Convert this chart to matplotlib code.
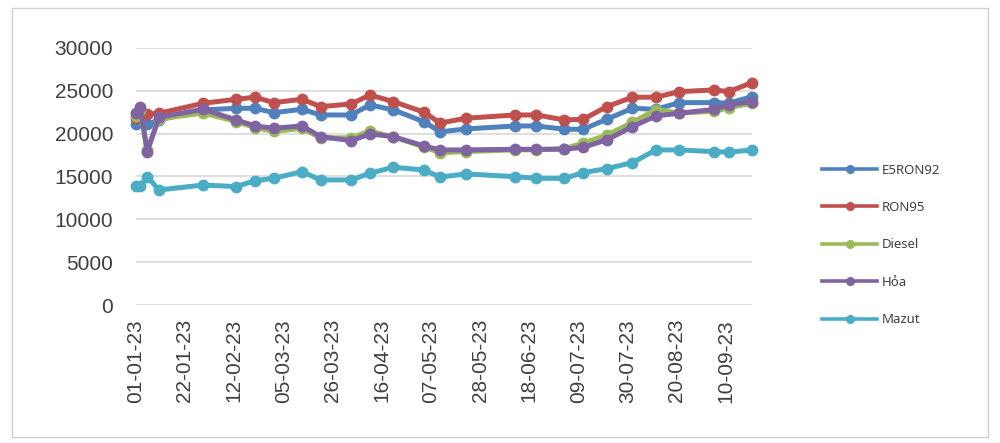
import datetime as dt
import matplotlib
matplotlib.use('Agg')
import matplotlib.pyplot as plt
import matplotlib.dates as mdates
from matplotlib.lines import Line2D
from matplotlib.patches import Rectangle

plt.rcParams['font.family'] = ['Liberation Sans', 'DejaVu Sans']

# ngày điều chỉnh giá (2023)
dates = [
    "2023-01-01", "2023-01-03", "2023-01-06", "2023-01-11", "2023-01-30",
    "2023-02-13", "2023-02-21", "2023-03-01", "2023-03-13", "2023-03-21",
    "2023-04-03", "2023-04-11", "2023-04-21", "2023-05-04", "2023-05-11",
    "2023-05-22", "2023-06-12", "2023-06-21", "2023-07-03", "2023-07-11",
    "2023-07-21", "2023-08-01", "2023-08-11", "2023-08-21", "2023-09-05",
    "2023-09-11", "2023-09-21",
]

e5ron92 = [21100, 21600, 21100, 21600, 22760, 22950, 22950, 22440, 22830, 22170,
           22170, 23340, 22760, 21390, 20200, 20540, 20890, 20890, 20500, 20500,
           21670, 22950, 22830, 23610, 23610, 23540, 24310]
ron95 = [21800, 22100, 22250, 22370, 23540, 24000, 24240, 23610, 24000, 23140,
         23460, 24500, 23730, 22500, 21230, 21790, 22170, 22170, 21590, 21670,
         23140, 24240, 24240, 24890, 25090, 24890, 25940]
diesel = [22100, 22700, 18100, 21700, 22400, 21400, 20700, 20250, 20600, 19500,
          19500, 20300, 19600, 18450, 17750, 17900, 18100, 18100, 18250, 18900,
          19800, 21300, 22800, 22400, 22600, 23000, 23550]
hoa = [22370, 23140, 17890, 21900, 22830, 21590, 20890, 20620, 20890, 19640,
       19170, 19960, 19640, 18560, 18090, 18090, 18170, 18170, 18170, 18400,
       19260, 20810, 22060, 22370, 22830, 23340, 23730]
mazut = [13890, 13890, 14970, 13420, 14000, 13810, 14510, 14780, 15560, 14590,
         14590, 15370, 16070, 15750, 14930, 15290, 14970, 14780, 14780, 15440,
         15910, 16610, 18090, 18090, 17890, 17820, 18090]

names = ["E5RON92", "RON95", "Diesel", "Hỏa", "Mazut"]
colors = ["#4F81BD", "#C0504D", "#9BBB59", "#8064A2", "#4BACC6"]
series = [e5ron92, ron95, diesel, hoa, mazut]

x = [dt.datetime.strptime(d, "%Y-%m-%d") for d in dates]

fig = plt.figure(figsize=(10, 4.43), dpi=100)
ax = fig.add_axes([0.1355, 0.3115, 0.752 - 0.1355, 0.892 - 0.3115])

for vals, c in zip(series, colors):
    ax.plot(x, vals, color=c, lw=3.6, marker='o', ms=7.5, clip_on=False,
            solid_joinstyle='round')

ax.set_ylim(0, 30000)
ax.set_yticks(range(0, 30001, 5000))
ax.set_xlim(x[0], x[-1])
ticks = [x[0] + dt.timedelta(days=21 * i) for i in range(13)]
ax.set_xticks(ticks)
ax.xaxis.set_major_formatter(mdates.DateFormatter("%d-%m-%y"))
ax.grid(axis='y', color='#d9d9d9', lw=1.2)
ax.set_axisbelow(True)
for s in ax.spines.values():
    s.set_visible(False)
ax.tick_params(axis='both', length=0, labelsize=15, colors='#404040')
ax.tick_params(axis='y', pad=16)
ax.tick_params(axis='x', pad=10, labelrotation=90)

handles = [Line2D([], [], color=c, lw=2.6, marker='o', ms=5.5) for c in colors]
fig.legend(handles, names, loc='center left', bbox_to_anchor=(0.822, 0.447),
           frameon=False, borderaxespad=0, borderpad=0,
           prop={'family': ['Noto Sans', 'DejaVu Sans'], 'size': 9.5},
           handlelength=4.2, handletextpad=0.35, labelspacing=1.85,
           labelcolor='#404040')

fig.patches.append(Rectangle((0.012, 0.014), 0.976, 0.968, transform=fig.transFigure,
                             fill=False, edgecolor='#d0d0d0', lw=1))

fig.savefig("out.png", dpi=100)
